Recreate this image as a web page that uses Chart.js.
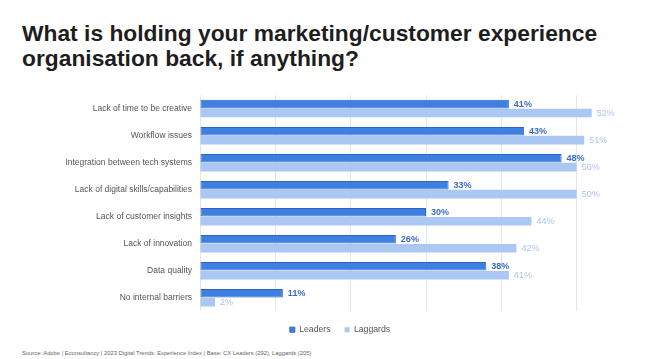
<!DOCTYPE html>
<html>
<head>
<meta charset="utf-8">
<script src="https://cdn.jsdelivr.net/npm/chart.js@4.4.0/dist/chart.umd.min.js"></script>
<style>
  body { margin: 0; background: #fff; width: 652px; height: 359px; overflow: hidden; position: relative; font-family: "Liberation Sans", Arial, sans-serif; }
  #title { position: absolute; left: 22px; top: 21px; margin: 0; font-size: 22.8px; line-height: 25px; font-weight: bold; color: #1e1e1e; }
  #wrap { position: absolute; left: 0; top: 82px; width: 652px; height: 262px; }
  #source { position: absolute; left: 22px; top: 350px; font-size: 5.8px; color: #666; }
</style>
</head>
<body>
<h1 id="title">What is holding your marketing/customer experience<br>organisation back, if anything?</h1>
<div id="wrap"><canvas id="chart"></canvas></div>
<div id="source">Source: Adobe | Econsultancy | 2023 Digital Trends: Experience Index | Base: CX Leaders (292), Laggards (205)</div>
<script>
var categories = ["Lack of time to be creative", "Workflow issues", "Integration between tech systems",
  "Lack of digital skills/capabilities", "Lack of customer insights", "Lack of innovation",
  "Data quality", "No internal barriers"];
var leaders = [41, 43, 48, 33, 30, 26, 38, 11];
var laggards = [52, 51, 50, 50, 44, 42, 41, 2];
var seriesNames = ["Leaders", "Laggards"];
var labelColors = ["#3a6cc4", "#a9c3ee"];

// draw the % value just right of each bar
var valueLabels = {
  id: "valueLabels",
  afterDatasetsDraw: function(chart) {
    var ctx = chart.ctx;
    ctx.save();
    chart.data.datasets.forEach(function(ds, i) {
      var meta = chart.getDatasetMeta(i);
      ctx.font = (i == 0 ? "bold " : "") + "9px 'Liberation Sans', Arial, sans-serif";
      ctx.fillStyle = labelColors[i];
      ctx.textBaseline = "middle";
      meta.data.forEach(function(bar, j) {
        ctx.fillText(ds.data[j] + "%", bar.x + 5, bar.y);
      });
    });
    ctx.restore();
  }
};

new Chart(document.getElementById("chart"), {
  type: "bar",
  data: {
    labels: categories,
    datasets: [
      { label: seriesNames[0], data: leaders, backgroundColor: "#3d80e2", borderColor: "#2e64c0", borderWidth: 1, borderSkipped: false },
      { label: seriesNames[1], data: laggards, backgroundColor: "#abc8f4" }
    ]
  },
  options: {
    indexAxis: "y",
    responsive: true,
    maintainAspectRatio: false,
    animation: false,
    categoryPercentage: 0.66,
    barPercentage: 0.96,
    layout: { padding: { top: 6.5, left: 28, right: 0, bottom: 0 } },
    scales: {
      x: {
        min: 0, max: 60,
        ticks: { display: false, stepSize: 10 },
        grid: { color: "#e6e6e6", drawTicks: false },
        border: { display: false }
      },
      y: {
        afterFit: function(scale) { scale.width = 172; },
        grid: { display: false, drawTicks: false },
        border: { display: false },
        ticks: { color: "#555", padding: 8, font: { family: "'Liberation Sans', Arial, sans-serif", size: 8.5 } }
      }
    },
    plugins: {
      legend: {
        position: "bottom",
        labels: {
          boxWidth: 5, boxHeight: 5, padding: 14, color: "#555",
          font: { family: "'Liberation Sans', Arial, sans-serif", size: 8.7 }
        }
      },
      tooltip: { enabled: false }
    }
  },
  plugins: [valueLabels]
});
</script>
</body>
</html>
